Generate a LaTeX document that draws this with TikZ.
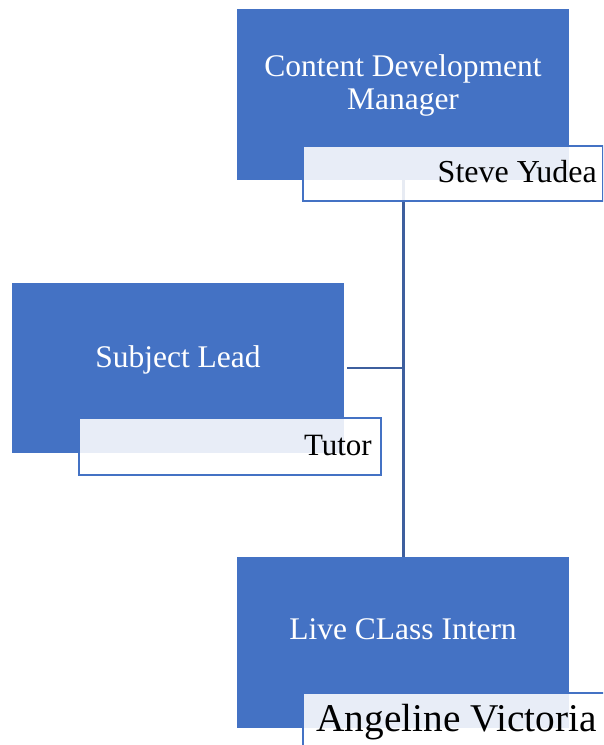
\documentclass[tikz,border=0pt]{standalone}
\usepackage{fontspec}
\setmainfont{Liberation Serif}
\definecolor{accent}{HTML}{4472C4}
\definecolor{linkc}{HTML}{3E5F9E}
\tikzset{
  bluebox/.style={fill=accent, draw=none, inner sep=0pt, anchor=north west},
  namebox/.style={fill=white, fill opacity=0.88, draw=accent, line width=2pt, inner sep=0pt, anchor=north west},
  role/.style={text=white, inner sep=0pt, anchor=base, font=\fontsize{31.5}{33}\selectfont},
  person/.style={text=black, inner sep=0pt, anchor=base east, font=\fontsize{32}{34}\selectfont},
  link/.style={draw=linkc, line width=2.6pt}
}
\begin{document}
\begin{tikzpicture}[x=1pt,y=-1pt]
\useasboundingbox (0,0) rectangle (603,745);
\clip (0,0) rectangle (603,745);
\fill[white] (0,0) rectangle (603,745);
% blue boxes
\node[bluebox, minimum width=332pt, minimum height=171pt] (cdm) at (237,9) {};
\node[bluebox, minimum width=332pt, minimum height=170pt] (sl) at (12,283) {};
\node[bluebox, minimum width=332pt, minimum height=171pt] (lci) at (237,557) {};
% connectors
\coordinate (j) at (403,368);
\draw[link] (cdm.south) -- (lci.north);
\draw[link] ([xshift=3pt]sl.east |- j) -- (j);
% redraw blue boxes on top of connector ends
\fill[accent] (cdm.north west) rectangle (cdm.south east);
\fill[accent] (lci.north west) rectangle (lci.south east);
% name boxes
\node[namebox, minimum width=300pt, minimum height=55pt] (cdmn) at (302,145) {};
\node[namebox, minimum width=302pt, minimum height=57pt] (sln) at (78,417) {};
\node[namebox, minimum width=310pt, minimum height=70pt] (lcin) at (302,692) {};
% role texts
\node[role] (t1) at (403,76) {Content Development};
\node[role] (t2) at (403,109) {Manager};
\node[role] (t3) at (178,367) {Subject Lead};
\node[role] (t4) at (403,639) {Live CLass Intern};
% person texts
\node[person] (p1) at (597,182) {Steve Yudea};
\node[person, font=\fontsize{31}{33}\selectfont] (p2) at (372,455) {Tutor};
\node[person, font=\fontsize{39.3}{41}\selectfont] (p3) at (597,731) {Angeline Victoria};
\end{tikzpicture}
\end{document}
